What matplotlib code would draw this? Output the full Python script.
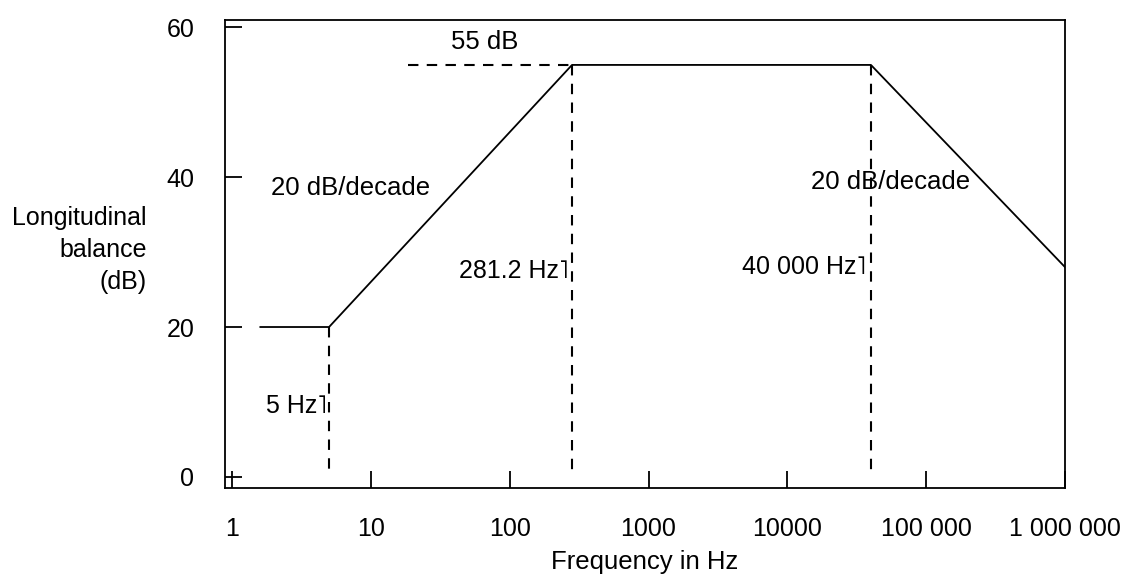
import matplotlib
matplotlib.use("Agg")
from matplotlib import pyplot as plt

plt.rcParams['font.family'] = ['Liberation Sans', 'DejaVu Sans']

# response curve (corner points)
freq = [1.6, 5, 281.2, 40000, 1e6]
balance_db = [20, 20, 55, 55, 28]

# guide lines
flat_level = 55
flat_start = 18.5
corner_freqs = [5, 281.2, 40000]
corner_levels = [20, 55, 55]

x_ticks = [1, 10, 100, 1000, 10000, 100000, 1000000]
x_tick_labels = ['1', '10', '100', '1000', '10000', '100 000', '1 000 000']
y_ticks = [0, 20, 40, 60]

fig = plt.figure(figsize=(11.36, 5.81), dpi=100)
ax = fig.add_axes([225 / 1136, 1 - 488 / 581, 840 / 1136, 468 / 581])

ax.plot(freq, balance_db, color='black', lw=1.3)
ax.plot([flat_start, corner_freqs[1]], [flat_level, flat_level], color='black',
        lw=1.5, dashes=(5, 4))
for f, lvl in zip(corner_freqs, corner_levels):
    ax.plot([f, f], [lvl, 0], color='black', lw=1.5, dashes=(5, 4))

ax.set_xscale('log')
ax.set_xlim(0.89, 0.95e6)
ax.set_ylim(-1.5, 61)
ax.set_xticks(x_ticks)
ax.set_xticklabels(x_tick_labels)
ax.minorticks_off()
ax.set_yticks(y_ticks)
ax.tick_params(direction='in', length=12, width=1.3, labelsize=18, colors='black')
ax.tick_params(axis='x', pad=21)
ax.tick_params(axis='y', pad=22)
for s in ax.spines.values():
    s.set_linewidth(1.3)

ax.set_xlabel('Frequency in Hz', fontsize=18.5, labelpad=6)
fig.text(147 / 1136, 1 - 250 / 581, 'Longitudinal\nbalance\n(dB)', fontsize=18,
         ha='right', va='center', multialignment='right', linespacing=1.4)

ax.text(66, 58, '55 dB', fontsize=18.5, ha='center', va='center')
ax.text(7.2, 38.5, '20 dB/decade', fontsize=18.5, ha='center', va='center')
ax.text(55000, 39.3, '20 dB/decade', fontsize=18.5, ha='center', va='center')
ax.text(265, 27.5, '281.2 Hz˥', fontsize=18, ha='right', va='center')
ax.text(37000, 28, '40 000 Hz˥', fontsize=18, ha='right', va='center')
ax.text(4.8, 9.5, '5 Hz˥', fontsize=18, ha='right', va='center')

fig.savefig('out.png', dpi=100)
